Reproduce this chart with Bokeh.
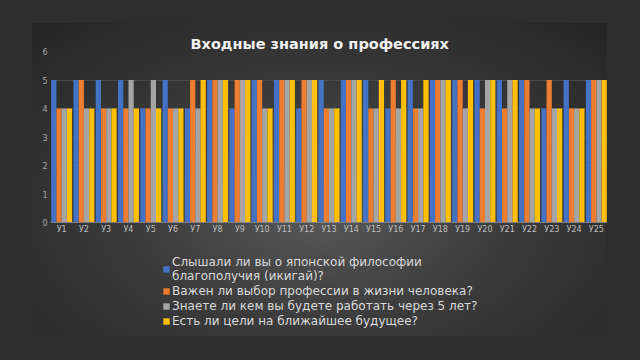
from bokeh.plotting import figure
from bokeh.models import FactorRange, Range1d, ColumnDataSource, Legend, LegendItem, FixedTicker
from bokeh.transform import dodge
from bokeh.embed import file_html
from bokeh.resources import INLINE

cats = ["У%d" % i for i in range(1, 26)]
q1 = [5, 5, 5, 5, 4, 5, 4, 5, 4, 5, 5, 4, 5, 5, 5, 4, 5, 5, 5, 5, 5, 5, 4, 5, 5]
q2 = [4, 5, 4, 4, 4, 4, 5, 5, 5, 5, 5, 5, 4, 5, 4, 5, 4, 5, 5, 4, 4, 5, 5, 4, 5]
q3 = [4, 4, 4, 5, 5, 4, 4, 5, 5, 4, 5, 5, 4, 5, 4, 4, 4, 5, 4, 5, 5, 4, 4, 4, 5]
q4 = [4, 4, 4, 4, 4, 4, 5, 5, 5, 4, 5, 5, 4, 5, 5, 5, 5, 5, 5, 5, 5, 4, 4, 4, 5]
series_names = [
    "Слышали ли вы о японской философии\nблагополучия (икигай)?",
    "Важен ли выбор профессии в жизни человека?",
    "Знаете ли кем вы будете работать через 5 лет?",
    "Есть ли цели на ближайшее будущее?",
]
colors = ["#4472C4", "#ED7D31", "#A5A5A5", "#FFC000"]
y_ticks = [0, 1, 2, 3, 4, 5, 6]

source = ColumnDataSource(dict(cats=cats, q1=q1, q2=q2, q3=q3, q4=q4))

FONT = "DejaVu Sans"

# frame covers the whole lower area; y below 0 is left empty for the legend
p = figure(
    x_range=FactorRange(*cats, range_padding=0),
    y_range=Range1d(-4, 6),
    width=575, height=313,
    output_backend="svg", toolbar_location=None,
    min_border_left=18, min_border_right=0, min_border_top=28, min_border_bottom=0,
    title="Входные знания о профессиях",
)
p.margin = (23, 0, 0, 32)
p.styles = {"background": "radial-gradient(ellipse 70% 80% at 50% 60%, #595959 0%, #3c3c3c 45%, #262626 100%)"}
p.background_fill_alpha = 0
p.border_fill_alpha = 0
p.outline_line_color = None

p.title.text_font = FONT
p.title.text_font_style = "bold"
p.title.text_font_size = "14.5px"
p.title.text_color = "#f2f2f2"
p.title.align = "left"
p.title.offset = 140
p.title.standoff = 0

bw = 0.235
offs = [-1.5 * bw, -0.5 * bw, 0.5 * bw, 1.5 * bw]
items = []
for key, off, col, name in zip(["q1", "q2", "q3", "q4"], offs, colors, series_names):
    r = p.vbar(x=dodge("cats", off, range=p.x_range), top=key, width=bw,
               source=source, fill_color=col, line_color=None)
    items.append(LegendItem(label=name, renderers=[r]))

legend = Legend(items=items, location=(112, 8), orientation="vertical")
legend.background_fill_alpha = 0
legend.border_line_color = None
legend.label_text_font = FONT
legend.label_text_font_size = "12px"
legend.label_text_color = "#d9d9d9"
legend.glyph_width = 8
legend.glyph_height = 8
legend.label_standoff = 2
legend.spacing = 1
legend.label_height = 14
legend.padding = 4
legend.margin = 0
p.add_layout(legend, "center")

p.xgrid.grid_line_color = None
p.ygrid.grid_line_color = "#4a4a4a"
p.ygrid.grid_line_width = 1

p.yaxis.ticker = FixedTicker(ticks=y_ticks)
p.yaxis.axis_line_color = None
p.yaxis.major_tick_line_color = None
p.yaxis.minor_tick_line_color = None
p.yaxis.major_tick_out = 0
p.yaxis.major_tick_in = 0
p.yaxis.major_label_text_font = FONT
p.yaxis.major_label_text_font_size = "8px"
p.yaxis.major_label_text_color = "#a6a6a6"
p.yaxis.major_label_standoff = 3

p.xaxis.fixed_location = 0
p.xaxis.axis_line_color = "#808080"
p.xaxis.major_tick_line_color = None
p.xaxis.minor_tick_line_color = None
p.xaxis.major_tick_out = 0
p.xaxis.major_tick_in = 0
p.xaxis.major_label_text_font = FONT
p.xaxis.major_label_text_font_size = "8px"
p.xaxis.major_label_text_color = "#bfbfbf"
p.xaxis.major_label_standoff = 2

html = file_html(p, INLINE)
html = html.replace("</head>", "<style>html,body{background:#2e2e2e;}</style></head>", 1)
open("out.html", "w").write(html)
